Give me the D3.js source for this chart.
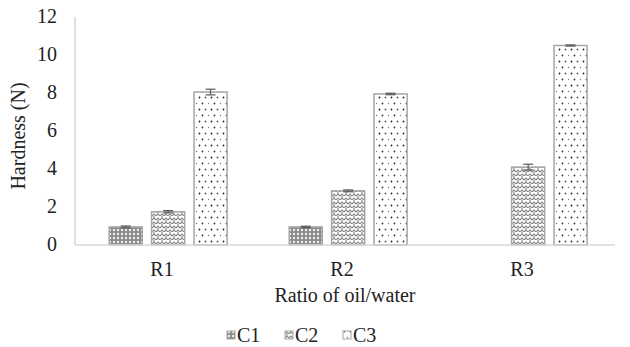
<!DOCTYPE html>
<html>
<head>
<meta charset="utf-8">
<script src="https://cdn.jsdelivr.net/npm/d3@7"></script>
<style>
  body { margin: 0; background: #fff; }
</style>
</head>
<body>
<div id="chart"></div>
<script>
const categories = ['R1', 'R2', 'R3'];
const seriesNames = ['C1', 'C2', 'C3'];
const c1Values = [0.95, 0.95, 0];
const c2Values = [1.75, 2.85, 4.1];
const c3Values = [8.05, 7.95, 10.5];
const c1Errors = [0.05, 0.04, 0];
const c2Errors = [0.06, 0.05, 0.15];
const c3Errors = [0.15, 0.04, 0.03];
const yTicks = [0, 2, 4, 6, 8, 10, 12];

const width = 630, height = 347;
const margin = { top: 17, right: 15, bottom: 102, left: 75 };
const FONT = "'Liberation Serif'";

const rows = [];
categories.forEach((cat, i) => {
  [c1Values, c2Values, c3Values].forEach((vals, j) => {
    const errs = [c1Errors, c2Errors, c3Errors][j];
    rows.push({ cat, series: seriesNames[j], value: vals[i], err: errs[i] });
  });
});

const svg = d3.select('#chart')
  .append('svg')
  .attr('width', width)
  .attr('height', height);

// patterns
const defs = svg.append('defs');

const p1 = defs.append('pattern')
  .attr('id', 'pat-C1')
  .attr('patternUnits', 'userSpaceOnUse')
  .attr('width', 4).attr('height', 4);
p1.append('rect').attr('width', 4).attr('height', 4).attr('fill', '#8a8a8a');
p1.append('circle').attr('cx', 2).attr('cy', 2).attr('r', 1.2).attr('fill', '#f0f0f0');

const p2 = defs.append('pattern')
  .attr('id', 'pat-C2')
  .attr('patternUnits', 'userSpaceOnUse')
  .attr('width', 8).attr('height', 8);
p2.append('rect').attr('width', 8).attr('height', 8).attr('fill', '#fff');
p2.append('path')
  .attr('d', 'M0,4 L2,2 L4,4 L6,2 L8,4 M0,8 L2,6 L4,8 L6,6 L8,8 M2,2 L2,0 M6,6 L6,4')
  .attr('fill', 'none')
  .attr('stroke', '#8a8a8a')
  .attr('stroke-width', 1.2);

const p3 = defs.append('pattern')
  .attr('id', 'pat-C3')
  .attr('patternUnits', 'userSpaceOnUse')
  .attr('width', 12).attr('height', 12);
p3.append('rect').attr('width', 12).attr('height', 12).attr('fill', '#fff');
p3.append('circle').attr('cx', 1.5).attr('cy', 1.5).attr('r', 0.9).attr('fill', '#555');
p3.append('circle').attr('cx', 7.5).attr('cy', 1.5).attr('r', 0.9).attr('fill', '#222');
p3.append('circle').attr('cx', 4.5).attr('cy', 7.5).attr('r', 0.7).attr('fill', '#777');
p3.append('circle').attr('cx', 10.5).attr('cy', 7.5).attr('r', 0.9).attr('fill', '#333');

const x0 = d3.scaleBand()
  .domain(categories)
  .range([margin.left, width - margin.right]);

const x1 = d3.scaleBand()
  .domain(seriesNames)
  .range([x0.bandwidth() * 0.19, x0.bandwidth() * 0.845])
  .paddingInner(0.22);

const y = d3.scaleLinear()
  .domain([0, 12])
  .range([height - margin.bottom, margin.top]);

// y axis line
svg.append('line')
  .attr('x1', margin.left).attr('x2', margin.left)
  .attr('y1', y(12)).attr('y2', y(0))
  .attr('stroke', '#bfbfbf').attr('stroke-width', 1);

// y tick labels
svg.append('g')
  .selectAll('text')
  .data(yTicks)
  .enter()
  .append('text')
    .attr('x', 57)
    .attr('y', (d) => y(d))
    .attr('dy', '0.3em')
    .attr('text-anchor', 'end')
    .style('font-family', FONT)
    .style('font-size', '20px')
    .style('fill', '#222')
    .text((d) => d);

// bars
svg.append('g')
  .selectAll('rect')
  .data(rows.filter((d) => d.value > 0))
  .enter()
  .append('rect')
    .attr('x', (d) => x0(d.cat) + x1(d.series))
    .attr('y', (d) => y(d.value))
    .attr('width', x1.bandwidth())
    .attr('height', (d) => y(0) - y(d.value))
    .attr('fill', (d) => `url(#pat-${d.series})`)
    .attr('stroke', '#a6a6a6')
    .attr('stroke-width', 1.5);

// error bars
const eb = svg.append('g')
  .selectAll('g')
  .data(rows.filter((d) => d.value > 0))
  .enter()
  .append('g')
    .attr('stroke', '#595959')
    .attr('stroke-width', 1.2);
eb.append('line')
  .attr('x1', (d) => x0(d.cat) + x1(d.series) + x1.bandwidth() / 2)
  .attr('x2', (d) => x0(d.cat) + x1(d.series) + x1.bandwidth() / 2)
  .attr('y1', (d) => y(d.value - d.err))
  .attr('y2', (d) => y(d.value + d.err));
[1, -1].forEach((s) => {
  eb.append('line')
    .attr('x1', (d) => x0(d.cat) + x1(d.series) + x1.bandwidth() / 2 - 5)
    .attr('x2', (d) => x0(d.cat) + x1(d.series) + x1.bandwidth() / 2 + 5)
    .attr('y1', (d) => y(d.value + s * d.err))
    .attr('y2', (d) => y(d.value + s * d.err));
});

// x baseline
svg.append('line')
  .attr('x1', margin.left).attr('x2', width - margin.right)
  .attr('y1', y(0)).attr('y2', y(0))
  .attr('stroke', '#d9d9d9').attr('stroke-width', 1.5);

// x labels
svg.append('g')
  .selectAll('text')
  .data(categories)
  .enter()
  .append('text')
    .attr('x', (d) => x0(d) + x0.bandwidth() / 2 - 3)
    .attr('y', 276)
    .attr('text-anchor', 'middle')
    .style('font-family', FONT)
    .style('font-size', '20px')
    .style('fill', '#222')
    .text((d) => d);

// axis titles
svg.append('text')
  .attr('x', 345).attr('y', 302)
  .attr('text-anchor', 'middle')
  .style('font-family', FONT)
  .style('font-size', '20px')
  .style('fill', '#222')
  .text('Ratio of oil/water');

svg.append('text')
  .attr('transform', `translate(25,136) rotate(-90)`)
  .attr('text-anchor', 'middle')
  .style('font-family', FONT)
  .style('font-size', '20px')
  .style('fill', '#222')
  .text('Hardness (N)');

// legend
const legend = svg.append('g')
  .selectAll('g')
  .data(seriesNames)
  .enter()
  .append('g')
    .attr('transform', (d, i) => `translate(${227 + i * 58},342)`);
legend.append('rect')
  .attr('x', 0).attr('y', -11)
  .attr('width', 8).attr('height', 8)
  .attr('fill', (d) => `url(#pat-${d})`)
  .attr('stroke', '#a6a6a6');
legend.append('text')
  .attr('x', 10).attr('y', 0)
  .style('font-family', FONT)
  .style('font-size', '20px')
  .style('fill', '#222')
  .text((d) => d);
</script>
</body>
</html>
